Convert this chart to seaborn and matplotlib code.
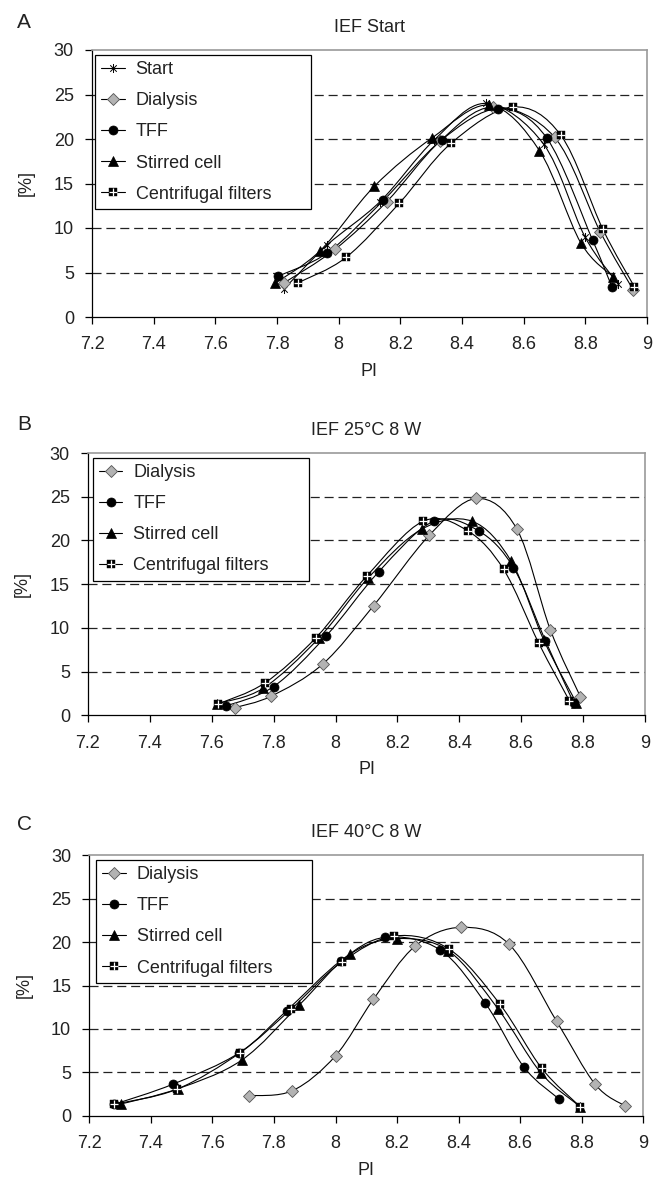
import numpy as np
import matplotlib
matplotlib.use("Agg")
import matplotlib.pyplot as plt
import seaborn as sns
from matplotlib.path import Path
from matplotlib.patches import PathPatch
from matplotlib.lines import Line2D
from matplotlib.legend_handler import HandlerTuple

# ---------------- data ----------------
series_names = ["Start", "Dialysis", "TFF", "Stirred cell", "Centrifugal filters"]
panel_titles = ["IEF Start", "IEF 25°C 8 W", "IEF 40°C 8 W"]
panel_letters = ["A", "B", "C"]
x_ticks = [7.2, 7.4, 7.6, 7.8, 8.0, 8.2, 8.4, 8.6, 8.8, 9.0]
x_tick_labels = ["7.2", "7.4", "7.6", "7.8", "8", "8.2", "8.4", "8.6", "8.8", "9"]
y_ticks = [0, 5, 10, 15, 20, 25, 30]

# Panel A: IEF Start
a_start_x = [7.824, 7.963, 8.134, 8.31, 8.478, 8.665, 8.799, 8.907]
a_start_y = [3.2, 8.1, 12.96, 19.9, 24.0, 19.4, 9.0, 3.7]
a_dial_x = [7.824, 7.988, 8.156, 8.33, 8.50, 8.70, 8.848, 8.956]
a_dial_y = [3.86, 7.6, 12.96, 19.8, 23.6, 20.2, 9.6, 3.0]
a_tff_x = [7.804, 7.963, 8.145, 8.334, 8.518, 8.675, 8.824, 8.886]
a_tff_y = [4.6, 7.2, 13.1, 19.9, 23.4, 20.1, 8.6, 3.4]
a_stir_x = [7.794, 7.94, 8.116, 8.302, 8.489, 8.651, 8.785, 8.891]
a_stir_y = [3.8, 7.45, 14.7, 20.1, 23.8, 18.7, 8.35, 4.5]
a_cent_x = [7.869, 8.024, 8.197, 8.364, 8.564, 8.721, 8.857, 8.959]
a_cent_y = [3.86, 6.7, 12.8, 19.5, 23.6, 20.4, 9.85, 3.4]

# Panel B: IEF 25°C 8 W
b_dial_x = [7.676, 7.792, 7.958, 8.123, 8.303, 8.455, 8.586, 8.694, 8.791]
b_dial_y = [0.9, 2.2, 5.85, 12.55, 20.6, 24.8, 21.3, 9.8, 2.15]
b_tff_x = [7.646, 7.80, 7.97, 8.139, 8.317, 8.462, 8.575, 8.678, 8.77]
b_tff_y = [1.07, 3.3, 9.1, 16.4, 22.2, 21.1, 16.9, 8.55, 1.4]
b_stir_x = [7.617, 7.766, 7.945, 8.105, 8.279, 8.441, 8.568, 8.673, 8.778]
b_stir_y = [1.35, 3.1, 8.8, 15.7, 21.3, 22.2, 17.6, 8.6, 1.45]
b_cent_x = [7.62, 7.771, 7.937, 8.10, 8.283, 8.427, 8.543, 8.656, 8.756]
b_cent_y = [1.3, 3.7, 8.9, 15.9, 22.2, 21.1, 16.7, 8.3, 1.65]

# Panel C: IEF 40°C 8 W
c_dial_x = [7.72, 7.86, 8.0, 8.123, 8.259, 8.408, 8.564, 8.718, 8.844, 8.941]
c_dial_y = [2.3, 2.88, 6.9, 13.4, 19.55, 21.7, 19.75, 10.9, 3.6, 1.12]
c_tff_x = [7.28, 7.473, 7.688, 7.841, 8.017, 8.161, 8.34, 8.487, 8.612, 8.727]
c_tff_y = [1.3, 3.65, 7.26, 12.1, 17.85, 20.55, 19.1, 12.95, 5.6, 1.9]
c_stir_x = [7.303, 7.487, 7.695, 7.882, 8.047, 8.20, 8.367, 8.528, 8.668, 8.795]
c_stir_y = [1.35, 3.1, 6.4, 12.75, 18.6, 20.4, 19.0, 12.3, 4.9, 1.04]
c_cent_x = [7.281, 7.484, 7.69, 7.855, 8.02, 8.191, 8.369, 8.533, 8.67, 8.795]
c_cent_y = [1.31, 3.04, 7.26, 12.26, 17.7, 20.7, 19.2, 12.9, 5.46, 1.04]

panels = [
    {"Start": (a_start_x, a_start_y), "Dialysis": (a_dial_x, a_dial_y),
     "TFF": (a_tff_x, a_tff_y), "Stirred cell": (a_stir_x, a_stir_y),
     "Centrifugal filters": (a_cent_x, a_cent_y)},
    {"Dialysis": (b_dial_x, b_dial_y), "TFF": (b_tff_x, b_tff_y),
     "Stirred cell": (b_stir_x, b_stir_y), "Centrifugal filters": (b_cent_x, b_cent_y)},
    {"Dialysis": (c_dial_x, c_dial_y), "TFF": (c_tff_x, c_tff_y),
     "Stirred cell": (c_stir_x, c_stir_y), "Centrifugal filters": (c_cent_x, c_cent_y)},
]

# ---------------- style ----------------
sns.set_theme(style="white")
plt.rcParams["font.family"] = ["Liberation Sans", "DejaVu Sans"]
plt.rcParams["lines.scale_dashes"] = False
TXT = "#222222"

star_path = Path([(0, -1), (0, 1), (-0.72, -0.72), (0.72, 0.72), (-0.72, 0.72), (0.72, -0.72)],
                 [Path.MOVETO, Path.LINETO, Path.MOVETO, Path.LINETO, Path.MOVETO, Path.LINETO])

styles = {
    "Start": dict(marker=star_path, markersize=6.5, markerfacecolor="none",
                  markeredgecolor="black", markeredgewidth=0.7),
    "Dialysis": dict(marker="D", markersize=6, markerfacecolor="#b3b3b3",
                     markeredgecolor="#555555", markeredgewidth=0.6),
    "TFF": dict(marker="o", markersize=6.5, markerfacecolor="black",
                markeredgecolor="black", markeredgewidth=0.5),
    "Stirred cell": dict(marker="^", markersize=6.5, markerfacecolor="black",
                         markeredgecolor="black", markeredgewidth=0.5),
    "Centrifugal filters": dict(marker="s", markersize=6.3, markerfacecolor="black",
                                markeredgecolor="black", markeredgewidth=0.3),
}
# white cross drawn over the black square of "Centrifugal filters"
overlay = {"Centrifugal filters": dict(marker="+", markersize=6.0, markerfacecolor="white",
                                       markeredgecolor="white", markeredgewidth=0.9)}


def smooth_path(xs, ys):
    pts = np.column_stack([xs, ys]).astype(float)
    n = len(pts)
    verts = [pts[0]]
    codes = [Path.MOVETO]
    for i in range(n - 1):
        p0 = pts[i - 1] if i > 0 else pts[i]
        p1 = pts[i]
        p2 = pts[i + 1]
        p3 = pts[i + 2] if i + 2 < n else pts[i + 1]
        c1 = p1 + (p2 - p0) / 6.0
        c2 = p2 - (p3 - p1) / 6.0
        verts += [c1, c2, p2]
        codes += [Path.CURVE4] * 3
    return Path(verts, codes)


W, H = 665, 1183
fig = plt.figure(figsize=(W / 100, H / 100), dpi=100)
fig.patch.set_facecolor("white")

rects_px = [(92, 647, 50, 317), (88, 645, 453, 715.4), (89.3, 643.3, 855.3, 1115.7)]
legend_px = [(95, 311, 55), (92.7, 309, 457.7), (96, 312, 860)]
letter_y = [22, 425, 824]

for k, (l, r, t, b) in enumerate(rects_px):
    ax = fig.add_axes([l / W, 1 - b / H, (r - l) / W, (b - t) / H])
    ax.set_facecolor("white")
    data = panels[k]
    for name in series_names:
        if name not in data:
            continue
        xs, ys = data[name]
        ax.add_patch(PathPatch(smooth_path(xs, ys), facecolor="none",
                               edgecolor="black", lw=0.8, zorder=3))
        sns.lineplot(x=xs, y=ys, ax=ax, linestyle="none", sort=False,
                     estimator=None, legend=False, zorder=4, **styles[name])
        if name in overlay:
            sns.lineplot(x=xs, y=ys, ax=ax, linestyle="none", sort=False,
                         estimator=None, legend=False, zorder=5, **overlay[name])

    ax.set_xlim(7.2, 9.0)
    ax.set_ylim(0, 30)
    ax.set_xticks(x_ticks)
    ax.set_xticklabels(x_tick_labels)
    ax.set_yticks(y_ticks)
    ax.tick_params(axis="both", which="major", labelsize=13, colors=TXT,
                   direction="out", length=5, width=0.9)
    ax.tick_params(axis="x", pad=9, bottom=True, color="black")
    ax.tick_params(axis="y", pad=8, left=True, color="black")

    ax.yaxis.grid(True, color="#222222", lw=0.9, linestyle=(0, (6.5, 3.5)), zorder=1)
    ax.xaxis.grid(False)
    ax.set_axisbelow(True)
    gl = ax.yaxis.get_gridlines()
    gl[0].set_visible(False)
    gl[-1].set_visible(False)

    for side in ["left", "bottom"]:
        ax.spines[side].set_color("black")
        ax.spines[side].set_linewidth(0.9)
    for side in ["top", "right"]:
        ax.spines[side].set_color("#9a9a9a")
        ax.spines[side].set_linewidth(1.2)

    ax.set_title(panel_titles[k], fontsize=13, color=TXT, pad=13)
    ax.set_xlabel("PI", fontsize=13, color=TXT)
    ax.set_ylabel("[%]", fontsize=13, color=TXT)
    ax.xaxis.set_label_coords(0.5, -46 / (b - t), transform=ax.transAxes)
    ax.yaxis.set_label_coords(-57 / (r - l), 0.5, transform=ax.transAxes)
    ax.xaxis.label.set_va("top")

    handles = []
    labels = []
    for n in series_names:
        if n not in data:
            continue
        h = Line2D([0], [0], color="black", lw=0.8, **styles[n])
        if n in overlay:
            h = (h, Line2D([0], [0], linestyle="none", **overlay[n]))
        handles.append(h)
        labels.append(n)
    ll, lr, lt = legend_px[k]
    x0 = (ll - l) / (r - l)
    wd = (lr - ll) / (r - l)
    top = (b - lt) / (b - t)
    leg = ax.legend(handles, labels, loc="upper left", bbox_to_anchor=(x0, top - 0.6, wd, 0.6),
                    mode="expand", fontsize=13, frameon=True, fancybox=False, shadow=False,
                    edgecolor="black", framealpha=1, labelspacing=0.78,
                    handlelength=1.3, handletextpad=0.6, borderpad=0.35,
                    borderaxespad=0.0, labelcolor=TXT,
                    handler_map={tuple: HandlerTuple(ndivide=1, pad=0)})
    leg.get_frame().set_linewidth(0.9)
    leg.set_zorder(6)

    fig.text(24 / W, 1 - letter_y[k] / H, panel_letters[k], fontsize=15,
             color=TXT, ha="center", va="center")

fig.savefig("out.png", dpi=100, facecolor="white")
